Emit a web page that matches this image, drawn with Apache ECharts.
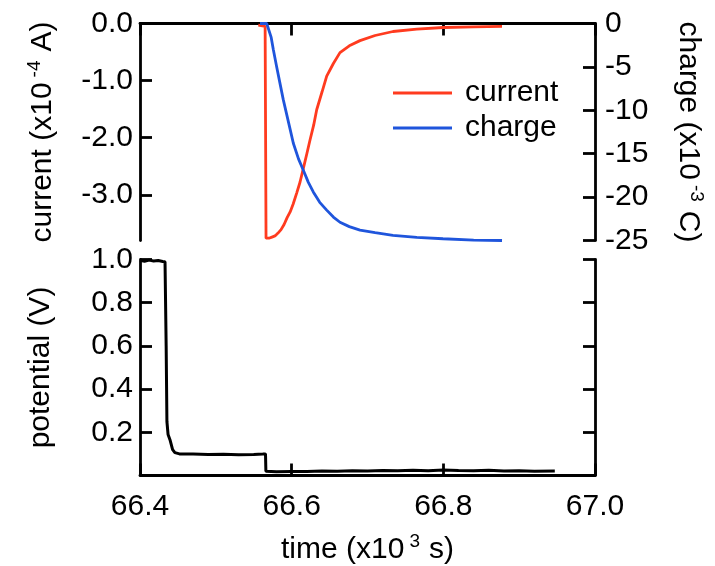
<!DOCTYPE html>
<html>
<head>
<meta charset="utf-8">
<title>Current, charge and potential vs time</title>
<script src="https://cdn.jsdelivr.net/npm/echarts@6/dist/echarts.min.js"></script>
<style>
  html, body { margin: 0; padding: 0; background: #ffffff; }
  #chart { width: 715px; height: 566px; }
</style>
</head>
<body>
<div id="chart"></div>
<script>
// time axis (x10^3 s)
const timeTicks = [66.4, 66.6, 66.8, 67.0];

// current (x10^-4 A): [time, current]
const currentData = [
  [66.5560, -0.03], [66.5650, -0.05], [66.5662, -3.76], [66.5700, -3.76],
  [66.5740, -3.74], [66.5780, -3.72], [66.5820, -3.67], [66.5860, -3.61],
  [66.5900, -3.52], [66.5940, -3.40], [66.5980, -3.30], [66.6020, -3.16],
  [66.6066, -2.97], [66.6110, -2.78], [66.6150, -2.56], [66.6200, -2.28],
  [66.6242, -2.04], [66.6290, -1.78], [66.6330, -1.51], [66.6400, -1.20],
  [66.6462, -0.92], [66.6550, -0.70], [66.6637, -0.51], [66.6760, -0.39],
  [66.6901, -0.30], [66.7100, -0.21], [66.7336, -0.14], [66.7650, -0.10],
  [66.8000, -0.07], [66.8400, -0.06], [66.8774, -0.05]
];

// charge (x10^-3 C): [time, charge]
const chargeData = [
  [66.5582, 0], [66.5671, 0], [66.5692, -0.2], [66.5730, -1.6],
  [66.5758, -3.0], [66.5800, -4.9], [66.5846, -6.9], [66.5890, -8.8],
  [66.5935, -10.5], [66.5980, -12.2], [66.6022, -13.8], [66.6090, -15.6],
  [66.6154, -16.9], [66.6220, -18.3], [66.6285, -19.4], [66.6370, -20.6],
  [66.6462, -21.5], [66.6550, -22.3], [66.6637, -22.9], [66.6760, -23.4],
  [66.6901, -23.8], [66.7100, -24.1], [66.7336, -24.4], [66.7650, -24.65],
  [66.7996, -24.8], [66.8400, -24.95], [66.8774, -25.0]
];

// potential (V): [time, potential]
const potentialData = [
  [66.4000, 0.996], [66.4060, 0.992], [66.4120, 0.997], [66.4180, 0.993],
  [66.4240, 0.995], [66.4300, 0.991], [66.4330, 0.990], [66.4345, 0.600],
  [66.4355, 0.250], [66.4370, 0.190], [66.4395, 0.166], [66.4430, 0.120],
  [66.4460, 0.106], [66.4520, 0.100], [66.4700, 0.099], [66.4900, 0.097],
  [66.5100, 0.098], [66.5300, 0.096], [66.5500, 0.097], [66.5620, 0.099],
  [66.5640, 0.106], [66.5655, 0.100], [66.5660, 0.020], [66.5800, 0.017],
  [66.6000, 0.019], [66.6200, 0.018], [66.6400, 0.021], [66.6600, 0.020],
  [66.6800, 0.022], [66.7000, 0.021], [66.7200, 0.023], [66.7400, 0.022],
  [66.7600, 0.024], [66.7800, 0.022], [66.8000, 0.025], [66.8200, 0.023],
  [66.8400, 0.022], [66.8600, 0.024], [66.8800, 0.021], [66.9000, 0.022],
  [66.9200, 0.020], [66.9470, 0.021]
];

// tick values shown on the y axes
const currentTicks = [0, -1, -2, -3];
const chargeTicks = [0, -5, -10, -15, -20, -25];
const potentialTicks = [0.2, 0.4, 0.6, 0.8, 1.0];

const FONT = 'Liberation Sans, Arial, sans-serif';
const INK = '#000000';
const RED = '#ff3b1f';
const BLUE = '#1f55dc';
const FS = 30;

// axis titles with a raised exponent
const richName = {
  m: { fontSize: FS, fontFamily: FONT, color: INK },
  s: { fontSize: 19, fontFamily: FONT, color: INK, padding: [0, 9, 16, 5] }
};

const lineAxis = { show: true, lineStyle: { color: INK, width: 2.8 } };
const tickIn = { show: true, inside: true, length: 12, lineStyle: { color: INK, width: 2.8 } };
const labelStyle = { fontSize: FS, fontFamily: FONT, color: INK };

const chart = echarts.init(document.getElementById('chart'), null, { renderer: 'canvas' });

chart.setOption({
  animation: false,
  backgroundColor: '#ffffff',
  legend: {
    orient: 'vertical',
    left: 393,
    top: 78,
    padding: 0,
    itemWidth: 59,
    itemHeight: 3,
    itemGap: 5,
    icon: 'rect',
    data: ['current', 'charge'],
    textStyle: { fontSize: FS, fontFamily: FONT, color: INK, padding: [0, 0, 0, 8] }
  },
  grid: [
    { left: 140, width: 455, top: 23.5, height: 217 },
    { left: 140, width: 455, top: 259.5, height: 216 }
  ],
  xAxis: [
    {
      type: 'value', gridIndex: 0, position: 'top',
      min: 66.4, max: 67.0, interval: 0.2,
      axisLine: lineAxis, axisTick: tickIn,
      axisLabel: { show: false }, splitLine: { show: false }
    },
    {
      type: 'value', gridIndex: 1, position: 'bottom',
      min: 66.4, max: 67.0, interval: 0.2,
      axisLine: lineAxis, axisTick: tickIn,
      axisLabel: Object.assign({ margin: 16, customValues: timeTicks, formatter: v => v.toFixed(1) }, labelStyle),
      splitLine: { show: false },
      name: '{m|time (x10}{s|3}{m|s)}',
      nameLocation: 'middle', nameGap: 57,
      nameTextStyle: { rich: richName }
    }
  ],
  yAxis: [
    {
      type: 'value', gridIndex: 0, position: 'left',
      min: -3.8, max: 0,
      axisLine: lineAxis,
      axisTick: Object.assign({ customValues: currentTicks }, tickIn),
      axisLabel: Object.assign({ margin: 7, customValues: currentTicks, formatter: v => v.toFixed(1) }, labelStyle),
      splitLine: { show: false },
      name: '{m|current (x10}{s|-4}{m|A)}',
      nameLocation: 'middle', nameGap: 80,
      nameTextStyle: { rich: richName }
    },
    {
      type: 'value', gridIndex: 0, position: 'right',
      min: -25, max: 0, interval: 5,
      axisLine: lineAxis, axisTick: tickIn,
      axisLabel: Object.assign({ margin: 10, customValues: chargeTicks }, labelStyle),
      splitLine: { show: false },
      name: '{m|charge (x10}{s|-3}{m|C)}',
      nameLocation: 'middle', nameGap: 76, nameRotate: -90,
      nameTextStyle: { rich: richName }
    },
    {
      type: 'value', gridIndex: 1, position: 'left',
      min: 0, max: 1, interval: 0.2,
      axisLine: lineAxis,
      axisTick: Object.assign({ customValues: potentialTicks }, tickIn),
      axisLabel: Object.assign({ margin: 7, customValues: potentialTicks, formatter: v => v.toFixed(1) }, labelStyle),
      splitLine: { show: false },
      name: 'potential (V)',
      nameLocation: 'middle', nameGap: 84,
      nameTextStyle: { fontSize: FS, fontFamily: FONT, color: INK }
    },
    {
      type: 'value', gridIndex: 1, position: 'right',
      min: 0, max: 1, interval: 0.2,
      axisLine: lineAxis,
      axisTick: Object.assign({ customValues: potentialTicks }, tickIn),
      axisLabel: { show: false },
      splitLine: { show: false }
    }
  ],
  series: [
    {
      name: 'current', type: 'line', xAxisIndex: 0, yAxisIndex: 0,
      data: currentData, showSymbol: false, symbol: 'none',
      lineStyle: { color: RED, width: 2.8 }, itemStyle: { color: RED }, z: 3
    },
    {
      name: 'charge', type: 'line', xAxisIndex: 0, yAxisIndex: 1,
      data: chargeData, showSymbol: false, symbol: 'none',
      lineStyle: { color: BLUE, width: 2.8 }, itemStyle: { color: BLUE }, z: 4
    },
    {
      name: 'potential', type: 'line', xAxisIndex: 1, yAxisIndex: 2,
      data: potentialData, showSymbol: false, symbol: 'none',
      lineStyle: { color: INK, width: 3 }, itemStyle: { color: INK }
    }
  ]
});
</script>
</body>
</html>
